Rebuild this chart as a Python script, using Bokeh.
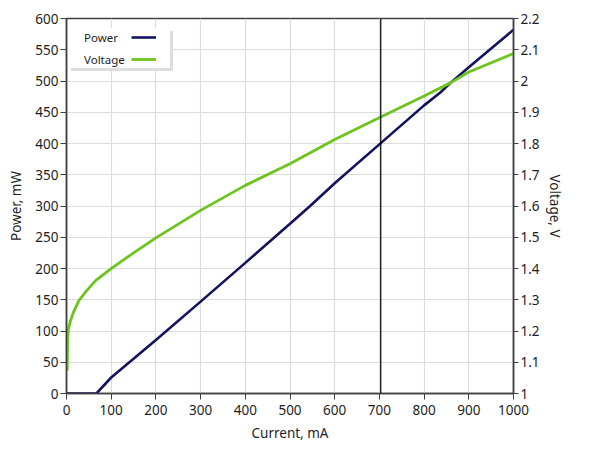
from bokeh.plotting import figure
from bokeh.models import (Range1d, LinearAxis, FixedTicker, CustomJSTickFormatter,
                          Span, Legend, LegendItem)
from bokeh.embed import file_html
from bokeh.resources import INLINE

# ---- data ----
current_p = [0, 67, 100, 200, 300, 400, 500, 545, 600, 703, 800, 837, 859, 900, 950, 1000]
power_mw = [0, 0, 25.6, 85.5, 147, 209, 271.5, 300, 336.5, 400.6, 461, 482, 497, 522, 552, 582]

current_v = [1.5, 2.5, 4, 9, 15, 27.6, 45, 65, 102, 150, 200, 300, 400, 500, 600, 703, 800, 859, 900, 1000]
voltage_v = [1.073, 1.17, 1.205, 1.233, 1.258, 1.297, 1.329, 1.361, 1.402, 1.45, 1.498, 1.586,
             1.666, 1.735, 1.813, 1.885, 1.952, 1.994, 2.029, 2.088]

current_ticks = [0, 100, 200, 300, 400, 500, 600, 700, 800, 900, 1000]
power_ticks = [0, 50, 100, 150, 200, 250, 300, 350, 400, 450, 500, 550, 600]
voltage_ticks = [1.0, 1.1, 1.2, 1.3, 1.4, 1.5, 1.6, 1.7, 1.8, 1.9, 2.0, 2.1, 2.2]
cursor_current = 703

FONT = "Noto Sans"
NAVY = "#12125e"
GREEN = "#6cc51e"
TXT = "#1e1e1e"
FH = 375  # frame height

p = figure(frame_width=447, frame_height=FH,
           x_range=Range1d(0, 1000), y_range=Range1d(0, 600),
           min_border_left=66, min_border_right=70, min_border_top=18, min_border_bottom=55,
           output_backend="svg", toolbar_location=None)
p.extra_y_ranges = {"v": Range1d(1.0, 2.2)}

p.outline_line_color = "#404040"
p.outline_line_width = 1.5
p.background_fill_color = "white"
p.border_fill_color = "white"

def style_axis(ax):
    ax.axis_line_color = "#404040"
    ax.axis_line_width = 1.5
    ax.major_tick_line_color = "#404040"
    ax.major_tick_out = 6
    ax.major_tick_in = 0
    ax.minor_tick_line_color = None
    ax.major_label_text_font = FONT
    ax.major_label_text_font_size = "13.5px"
    ax.major_label_text_color = TXT
    ax.axis_label_text_font = FONT
    ax.axis_label_text_font_size = "13.5px"
    ax.axis_label_text_font_style = "normal"
    ax.axis_label_text_color = TXT

p.xaxis.ticker = FixedTicker(ticks=current_ticks)
p.yaxis.ticker = FixedTicker(ticks=power_ticks)
p.xaxis.axis_label = "Current, mA"
p.yaxis.axis_label = "Power, mW"
style_axis(p.xaxis[0])
style_axis(p.yaxis[0])
p.xaxis.major_label_standoff = 5
p.yaxis.major_label_standoff = 2
p.xaxis.axis_label_standoff = 6
p.yaxis.axis_label_standoff = 7

rax = LinearAxis(y_range_name="v", ticker=FixedTicker(ticks=voltage_ticks),
                 axis_label="Voltage, V",
                 formatter=CustomJSTickFormatter(code="return String(Number(tick.toFixed(1)));"))
style_axis(rax)
rax.major_tick_out = 5
rax.major_label_standoff = 2
rax.axis_label_standoff = 3
p.add_layout(rax, "right")

p.xgrid.grid_line_color = "#dcdcdc"
p.ygrid.grid_line_color = "#dcdcdc"
p.xgrid.grid_line_width = 1.2
p.ygrid.grid_line_width = 1.2

r_p = p.line(current_p, power_mw, line_color=NAVY, line_width=2.6)
r_v = p.line(current_v, voltage_v, line_color=GREEN, line_width=2.8, y_range_name="v")

p.add_layout(Span(location=cursor_current, dimension="height", line_color="black", line_width=1.2))

common = dict(padding=4, spacing=4, glyph_height=18, label_height=18,
              label_text_font=FONT, label_text_font_size="11.5px", label_text_color=TXT,
              border_line_color=None, margin=0)

# shadow box: same size as the label legend, offset by 3px
legend_shadow = Legend(items=[LegendItem(label="", renderers=[r_p]),
                              LegendItem(label="", renderers=[r_v])],
                       location=(5, FH - 53), glyph_width=0, label_standoff=16, label_width=86,
                       background_fill_color="#dddddd", background_fill_alpha=1.0, **common)
p.add_layout(legend_shadow)

legend_labels = Legend(items=[LegendItem(label="Power", renderers=[r_p]),
                              LegendItem(label="Voltage", renderers=[r_v])],
                       location=(2, FH - 50), glyph_width=0, label_standoff=16, label_width=86,
                       background_fill_color="white", background_fill_alpha=1.0, **common)
p.add_layout(legend_labels)

legend_glyphs = Legend(items=[LegendItem(label="", renderers=[r_p]),
                              LegendItem(label="", renderers=[r_v])],
                       location=(65, FH - 50), glyph_width=25, label_standoff=0, label_width=0,
                       background_fill_alpha=0.0, **common)
p.add_layout(legend_glyphs)

open("out.html", "w").write(file_html(p, INLINE))
